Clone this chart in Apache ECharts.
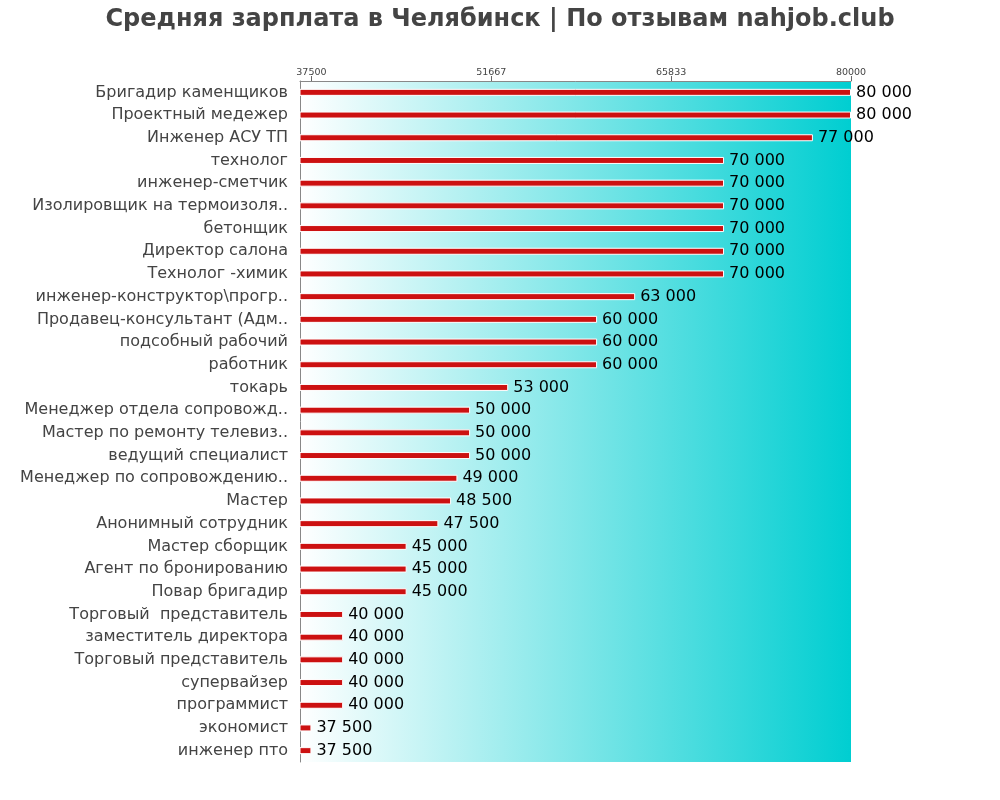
<!DOCTYPE html>
<html>
<head>
<meta charset="utf-8">
<script src="https://cdn.jsdelivr.net/npm/echarts@6/dist/echarts.min.js"></script>
<style>html,body{margin:0;padding:0;background:#fff;}#c{width:1000px;height:800px;}</style>
</head>
<body>
<div id="c"></div>
<script>
const titleText = 'Средняя зарплата в Челябинск | По отзывам nahjob.club';
const categories = [
  'Бригадир каменщиков',
  'Проектный медежер',
  'Инженер АСУ ТП',
  'технолог',
  'инженер-сметчик',
  'Изолировщик на термоизоля..',
  'бетонщик',
  'Директор салона',
  'Технолог -химик',
  'инженер-конструктор\\прогр..',
  'Продавец-консультант (Адм..',
  'подсобный рабочий',
  'работник',
  'токарь',
  'Менеджер отдела сопровожд..',
  'Мастер по ремонту телевиз..',
  'ведущий специалист',
  'Менеджер по сопровождению..',
  'Мастер',
  'Анонимный сотрудник',
  'Мастер сборщик',
  'Агент по бронированию',
  'Повар бригадир',
  'Торговый  представитель',
  'заместитель директора',
  'Торговый представитель',
  'супервайзер',
  'программист',
  'экономист',
  'инженер пто'
];
const salaries = [
  80000, 80000, 77000, 70000, 70000, 70000, 70000, 70000, 70000, 63000,
  60000, 60000, 60000, 53000, 50000, 50000, 50000, 49000, 48500, 47500,
  45000, 45000, 45000, 40000, 40000, 40000, 40000, 40000, 37500, 37500
];
const tickValues = [37500, 51667, 65833, 80000];

const fmt = v => String(Math.round(v)).replace(/\B(?=(\d{3})+(?!\d))/g, ' ');

const chart = echarts.init(document.getElementById('c'), null, {renderer: 'canvas'});
chart.setOption({
  animation: false,
  backgroundColor: '#ffffff',
  title: {
    text: titleText,
    left: 'center',
    top: 3,
    textStyle: {fontFamily: 'DejaVu Sans', fontSize: 24, fontWeight: 'bold', color: '#444444'}
  },
  grid: {
    left: 300, right: 149, top: 81, bottom: 38,
    show: true,
    borderWidth: 0,
    backgroundColor: {
      type: 'linear', x: 0, y: 0, x2: 1, y2: 0,
      colorStops: [
        {offset: 0, color: '#ffffff'},
        {offset: 1, color: '#00CED1'}
      ]
    }
  },
  xAxis: {
    type: 'value',
    position: 'top',
    min: 36600,
    max: 80000,
    axisLine: {show: true, lineStyle: {color: '#888888', width: 1}},
    axisTick: {show: true, length: 5, customValues: tickValues, lineStyle: {color: '#666666'}},
    axisLabel: {
      show: true, customValues: tickValues, fontSize: 9.5, color: '#444444',
      fontFamily: 'DejaVu Sans', margin: 3,
      formatter: v => String(Math.round(v))
    },
    splitLine: {show: false}
  },
  yAxis: {
    type: 'category',
    inverse: true,
    data: categories,
    axisLine: {show: true, lineStyle: {color: '#888888', width: 1}},
    axisTick: {show: false},
    axisLabel: {fontFamily: 'DejaVu Sans', fontSize: 16, color: '#444444', margin: 12,
      padding: [0, 0, 5, 0]}
  },
  series: [{
    type: 'bar',
    data: salaries,
    barWidth: 7,
    itemStyle: {color: '#CC1111', borderColor: '#ffffff', borderWidth: 1},
    label: {
      show: true, position: 'right', distance: 5,
      fontFamily: 'DejaVu Sans', fontSize: 16, color: '#000000',
      formatter: p => fmt(p.value)
    }
  }]
});
</script>
</body>
</html>
